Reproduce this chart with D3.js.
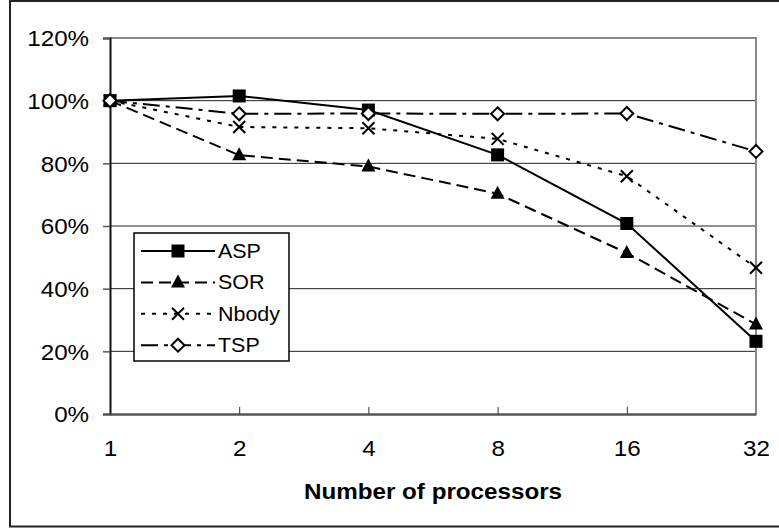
<!DOCTYPE html>
<meta charset="utf-8">
<html>
<head><title>Efficiency vs processors</title></head>
<style>
body { margin: 0; background: #fff; }
svg text { font-family: "Liberation Sans", Arial, sans-serif; fill: #000; }
</style>
<body>
<svg id="chart" width="779" height="529"></svg>
<script src="https://d3js.org/d3.v7.min.js"></script>
<script>

// categories on the x axis
var procs = ["1", "2", "4", "8", "16", "32"];
// y tick values (percent)
var yTicks = [0, 20, 40, 60, 80, 100, 120];

// series values, percent of ideal
var asp   = [100, 101.5, 97.0, 82.7, 60.8, 23.2];
var sor   = [100, 82.6, 79.0, 70.3, 51.4, 28.6];
var nbody = [100, 91.6, 91.2, 87.8, 75.9, 46.7];
var tsp   = [100, 95.8, 95.9, 95.8, 95.9, 83.8];

var seriesNames = ["ASP", "SOR", "Nbody", "TSP"];
var seriesValues = [asp, sor, nbody, tsp];

var svg = d3.select("#chart");
var stretch = 1.1; // the original text is a little wide

// plot area edges (window.top is reserved, so use own names)
var plotLeft = 110, plotRight = 756, plotTop = 38, plotBottom = 414;

var x = d3.scalePoint().domain(procs).range([plotLeft, plotRight]);
var y = d3.scaleLinear().domain([0, 120]).range([plotBottom, plotTop]);

// line styles per series
var dashes = [null, "12,6", "4,7", "17,6,4,6"];
var shapes = ["square", "triangle", "cross", "diamond"];

// outer frame
svg.append("rect")
  .attr("x", 10).attr("y", 1)
  .attr("width", 790).attr("height", 525.5)
  .attr("fill", "none").attr("stroke", "#222").attr("stroke-width", 2);

// gridlines
svg.append("g").selectAll("line")
  .data(yTicks.filter(function(d) { return d > 0 && d < 120; }))
  .enter().append("line")
  .attr("x1", plotLeft).attr("x2", plotRight)
  .attr("y1", function(d) { return y(d); })
  .attr("y2", function(d) { return y(d); })
  .attr("stroke", "#222").attr("stroke-width", 1);

// plot border top / right (grey)
svg.append("path")
  .attr("d", "M" + plotLeft + "," + plotTop + "H" + plotRight + "V" + plotBottom)
  .attr("fill", "none").attr("stroke", "#888").attr("stroke-width", 2);

// y axis
var yAxis = svg.append("g")
  .attr("transform", "translate(" + plotLeft + ",0)")
  .call(d3.axisLeft(y).tickValues(yTicks).tickSize(7).tickPadding(12)
    .tickFormat(function(d) { return d + "%"; }));
yAxis.select(".domain").attr("stroke", "#111").attr("stroke-width", 2);
yAxis.selectAll(".tick line").attr("stroke", "#555").attr("stroke-width", 1.5);
yAxis.selectAll("text")
  .attr("font-size", "22px")
  .attr("dy", "0.35em")
  .attr("transform", "scale(" + stretch + ",1)");

// x axis
var xAxis = svg.append("g")
  .attr("transform", "translate(0," + plotBottom + ")")
  .call(d3.axisTop(x).tickSize(7).tickSizeOuter(0));
xAxis.select(".domain").attr("stroke", "#555").attr("stroke-width", 2.5);
xAxis.selectAll(".tick line").attr("stroke", "#333").attr("stroke-width", 1);
xAxis.selectAll(".tick")
  .filter(function(d, i) { return i === 0 || i === procs.length - 1; })
  .select("line").remove();
xAxis.selectAll(".tick text")
  .attr("y", 42)
  .attr("dy", 0)
  .attr("font-size", "22px")
  .attr("transform", "scale(" + stretch + ",1)");

// axis title
svg.append("text")
  .attr("transform", "translate(" + ((plotLeft + plotRight) / 2) + ",499) scale(" + stretch + ",1)")
  .attr("text-anchor", "middle")
  .attr("font-size", "22px")
  .attr("font-weight", "bold")
  .text("Number of processors");

function drawMarker(g, shape) {
  if (shape === "square") {
    g.append("rect").attr("x", -6.5).attr("y", -6.5).attr("width", 13).attr("height", 13)
      .attr("fill", "#000");
  } else if (shape === "triangle") {
    g.append("path").attr("d", "M0,-8L7,5L-7,5Z").attr("fill", "#000");
  } else if (shape === "cross") {
    g.append("path").attr("d", "M-6,-6L6,6M-6,6L6,-6")
      .attr("stroke", "#000").attr("stroke-width", 2).attr("fill", "none");
  } else {
    g.append("path").attr("d", "M0,-6.5L6.5,0L0,6.5L-6.5,0Z")
      .attr("stroke", "#000").attr("stroke-width", 2).attr("fill", "#fff");
  }
}

var line = d3.line()
  .x(function(d, i) { return x(procs[i]); })
  .y(function(d) { return y(d); });

// lines first, then all markers on top
seriesValues.forEach(function(vals, k) {
  svg.append("path")
    .datum(vals)
    .attr("d", line)
    .attr("fill", "none")
    .attr("stroke", "#000")
    .attr("stroke-width", 2)
    .attr("stroke-dasharray", dashes[k]);
});
seriesValues.forEach(function(vals, k) {
  vals.forEach(function(v, i) {
    var g = svg.append("g")
      .attr("transform", "translate(" + x(procs[i]) + "," + y(v) + ")");
    drawMarker(g, shapes[k]);
  });
});

// legend
var legend = svg.append("g").attr("transform", "translate(134,233)");
legend.append("rect")
  .attr("width", 155).attr("height", 128)
  .attr("fill", "#fff").attr("stroke", "#000").attr("stroke-width", 1.5);

seriesNames.forEach(function(name, k) {
  var ly = 18 + k * 31.4;
  legend.append("line")
    .attr("x1", 7).attr("x2", 81)
    .attr("y1", ly).attr("y2", ly)
    .attr("stroke", "#000").attr("stroke-width", 2)
    .attr("stroke-dasharray", dashes[k]);
  drawMarker(legend.append("g").attr("transform", "translate(44," + ly + ")"), shapes[k]);
  legend.append("text")
    .attr("transform", "translate(84," + (ly + 7) + ") scale(" + stretch + ",1)")
    .attr("font-size", "19.5px")
    .text(name);
});

</script>
</body>
</html>
